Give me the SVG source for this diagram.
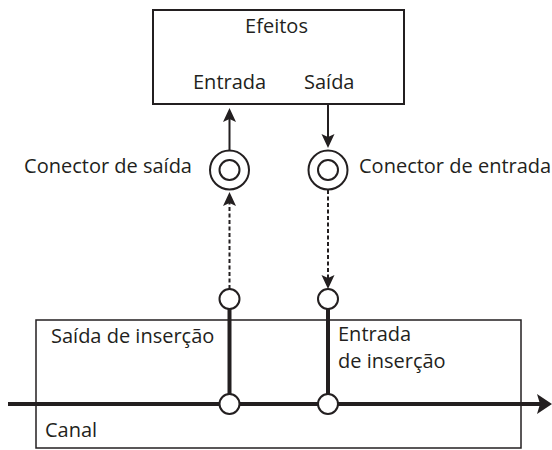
<svg xmlns="http://www.w3.org/2000/svg" width="552" height="450" viewBox="0 0 552 450">
<style>
text{font-family:"Open Sans","Noto Sans","Liberation Sans",sans-serif;font-size:20px;fill:#231f20}
.box{fill:#fff;stroke:#231f20}
.ln{stroke:#231f20;fill:none;stroke-width:2}
.dash{stroke:#231f20;fill:none;stroke-width:2;stroke-dasharray:4 2.5}
.thick{stroke:#231f20;fill:none;stroke-width:4}
.ah{fill:#231f20}
.ring{fill:#fff;stroke:#231f20;stroke-width:2}
</style>
<rect width="552" height="450" fill="#fff"/>
<g id="efeitos">
<rect class="box" x="153" y="10" width="251" height="94" stroke-width="2"/>
<text x="276.5" y="33" text-anchor="middle">Efeitos</text>
<text x="193" y="89">Entrada</text>
<text x="304" y="89">Saída</text>
</g>
<g id="canal">
<rect class="box" x="36" y="320" width="485" height="128" stroke-width="1.5"/>
<text x="51" y="343">Saída de inserção</text>
<text x="338" y="341">Entrada</text>
<text x="338" y="368">de inserção</text>
<text x="45" y="437">Canal</text>
</g>
<g id="connectors">
<line class="ln" x1="229.5" y1="151" x2="229.5" y2="119"/>
<path class="ah" d="M229.5,108 L236,122 L229.5,119 L223,122 Z"/>
<line class="ln" x1="328" y1="104" x2="328" y2="137"/>
<path class="ah" d="M328,148 L321.5,134 L328,137 L334.5,134 Z"/>
<line class="dash" x1="229.5" y1="289" x2="229.5" y2="203"/>
<path class="ah" d="M229.5,192 L236,206 L229.5,203 L223,206 Z"/>
<line class="dash" x1="328" y1="190" x2="328" y2="278"/>
<path class="ah" d="M328,289 L321.5,275 L328,278 L334.5,275 Z"/>
<line class="thick" x1="229.5" y1="309" x2="229.5" y2="395"/>
<line class="thick" x1="328" y1="309" x2="328" y2="395"/>
<line class="thick" x1="8" y1="404" x2="541" y2="404"/>
<path class="ah" d="M552,404 L537,394 L540,404 L537,414 Z"/>
</g>
<g id="conector-saida">
<circle class="ring" cx="229.5" cy="170" r="19.5"/>
<circle class="ring" cx="229.5" cy="170" r="10"/>
<text x="192" y="173" text-anchor="end">Conector de saída</text>
</g>
<g id="conector-entrada">
<circle class="ring" cx="328" cy="170" r="19.5"/>
<circle class="ring" cx="328" cy="170" r="10"/>
<text x="359" y="173">Conector de entrada</text>
</g>
<g id="insert-send">
<circle class="ring" cx="229.5" cy="299" r="10"/>
</g>
<g id="insert-return">
<circle class="ring" cx="328" cy="299" r="10"/>
</g>
<g id="junction-send">
<circle class="ring" cx="229.5" cy="404" r="10" stroke-width="2.5"/>
</g>
<g id="junction-return">
<circle class="ring" cx="328" cy="404" r="10" stroke-width="2.5"/>
</g>
</svg>
